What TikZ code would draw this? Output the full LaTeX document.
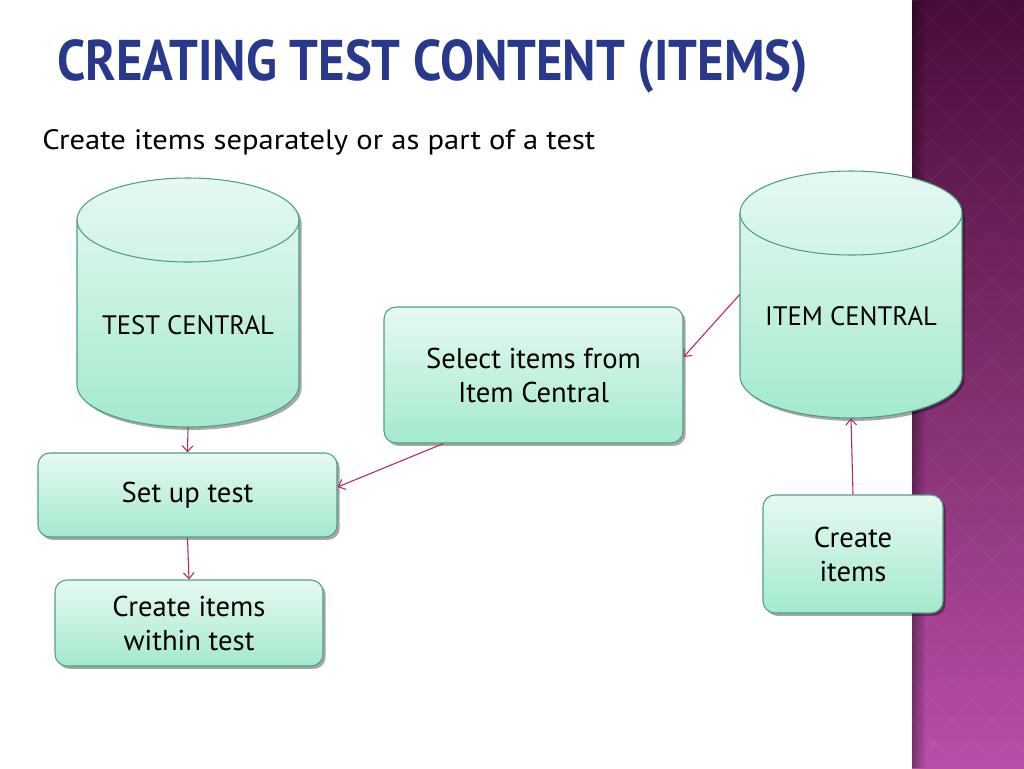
\documentclass[tikz,border=0pt]{standalone}
\usepackage{fontspec}
\usepackage{graphicx}
\setmainfont{PT Sans}
\usetikzlibrary{arrows.meta,shadows,calc,fadings}
\definecolor{titleblue}{RGB}{40,56,140}
\definecolor{mintT}{RGB}{230,249,241}
\definecolor{mintB}{RGB}{164,234,205}
\definecolor{boxline}{RGB}{78,160,130}
\definecolor{arrowc}{RGB}{178,42,92}
\definecolor{purT}{RGB}{72,12,56}
\definecolor{purM}{RGB}{128,46,110}
\definecolor{purB}{RGB}{184,78,168}
\begin{document}
\begin{tikzpicture}[x=0.75pt,y=-0.75pt,
  shade3d/.style={top color=mintT, bottom color=mintB},
  shadowed/.style={drop shadow={shadow xshift=2pt,shadow yshift=-2.2pt,opacity=0.35,fill=black}},
  box/.style={draw=boxline, line width=0.8pt, rounded corners=9pt, shade3d, shadowed,
    align=center, inner sep=0pt, font=\fontsize{21.5}{25.5}\selectfont},
  cyl/.style={draw=boxline, line width=0.8pt, shade3d, shadowed},
  cyltext/.style={font=\fontsize{20}{24}\selectfont, inner sep=0pt},
  holder/.style={inner sep=0pt, draw=none},
  conn/.style={draw=arrowc, line width=0.8pt, -{Straight Barb[length=4.5pt,width=8pt]}}]

\useasboundingbox (0,0) rectangle (1024,768);
\fill[white] (0,0) rectangle (1024,768);

% purple side band
\shade[top color=purT, bottom color=purB, middle color=purM] (912,0) rectangle (1024,768);
\begin{scope}
  \clip (912,0) rectangle (1024,768);
  \foreach \k in {-22,...,26} {
    \draw[white, opacity=0.03, line width=1pt] (912+40*\k,0) -- (912+40*\k+768,768);
    \draw[white, opacity=0.03, line width=1pt] (912+40*\k,0) -- (912+40*\k-768,768);
  }
  \fill[black, path fading=east, fill opacity=0.35] (912,0) rectangle (926,768);
\end{scope}
\node[text=purB!85!white, font=\fontsize{9}{9}\selectfont, inner sep=0pt] (pg) at (933,746) {7};

% title and subtitle
\node[anchor=base west, inner sep=0pt, text=titleblue] (title) at (57,80)
  {\resizebox{563.25pt}{\height}{\fontsize{43}{50}\selectfont\bfseries CREATING TEST CONTENT (ITEMS)}};
\node[anchor=base west, inner sep=0pt] (sub) at (42,149)
  {\resizebox{414.75pt}{\height}{\fontsize{21}{25}\selectfont Create items separately or as part of a test}};

% left cylinder: TEST CENTRAL
\path[cyl] (77,220) -- (77,385) .. controls (77,408.2) and (126.7,427) .. (188,427)
  .. controls (249.3,427) and (299,408.2) .. (299,385) -- (299,220)
  .. controls (299,196.8) and (249.3,178) .. (188,178)
  .. controls (126.7,178) and (77,196.8) .. (77,220) -- cycle;
\draw[boxline, line width=0.8pt] (77,220) .. controls (77,243.2) and (126.7,262) .. (188,262)
  .. controls (249.3,262) and (299,243.2) .. (299,220);
\node[holder, minimum width=166.5pt, minimum height=186.75pt] (tc) at (188,302.5) {};
\node[cyltext] (tclabel) at (188,325) {TEST CENTRAL};

% right cylinder: ITEM CENTRAL
\path[cyl] (740,213) -- (740,376) .. controls (740,399.2) and (789.7,418) .. (851,418)
  .. controls (912.3,418) and (962,399.2) .. (962,376) -- (962,213)
  .. controls (962,189.8) and (912.3,171) .. (851,171)
  .. controls (789.7,171) and (740,189.8) .. (740,213) -- cycle;
\draw[boxline, line width=0.8pt] (740,213) .. controls (740,236.2) and (789.7,255) .. (851,255)
  .. controls (912.3,255) and (962,236.2) .. (962,213);
\node[holder, minimum width=166.5pt, minimum height=185.25pt] (ic) at (851,294.5) {};
\node[cyltext] (iclabel) at (851,316) {ITEM CENTRAL};

% boxes
\node[box, minimum width=224.25pt, minimum height=63pt] (setup) at (187.5,495) {Set up test};
\node[box, minimum width=201pt, minimum height=64.5pt] (within) at (189,623) {Create items\\within test};
\node[box, minimum width=224.25pt, minimum height=102pt] (sel) at (533.5,375) {Select items from\\Item Central};
\node[box, minimum width=135pt, minimum height=88.5pt] (create) at (853,554) {Create\\items};

% connectors
\draw[conn] (tc.south) -- (setup.north);
\draw[conn] (setup.south) -- (within.north);
\draw[conn] (ic.west) -- ($(sel.east)+(0,-18)$);
\draw[conn] ($(sel.south west)!0.2!(sel.south east)$) -- ($(setup.east)+(0,-8)$);
\draw[conn] (create.north) -- (ic.south);
\end{tikzpicture}
\end{document}
